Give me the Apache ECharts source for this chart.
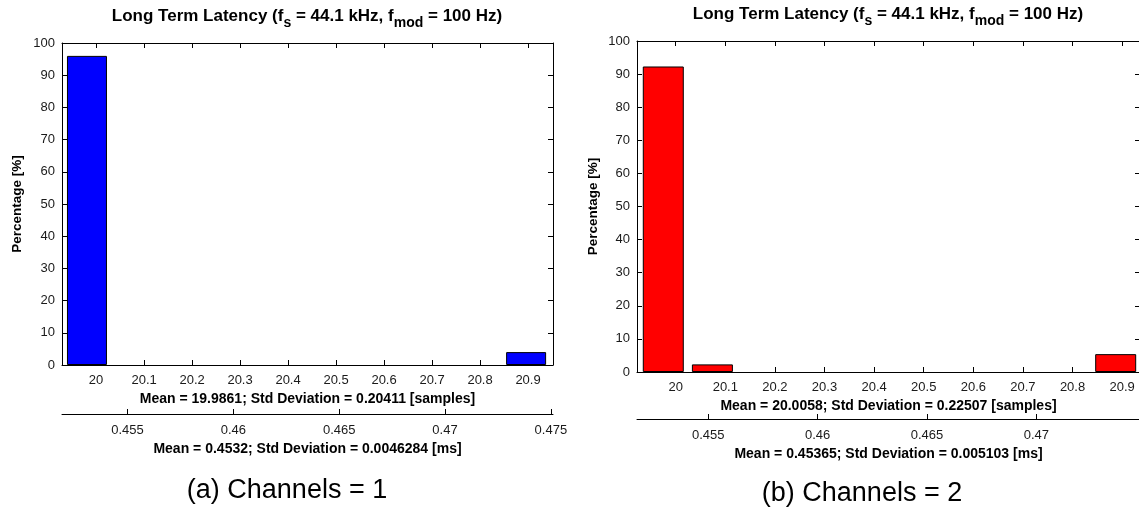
<!DOCTYPE html>
<html>
<head>
<meta charset="utf-8">
<script src="https://cdn.jsdelivr.net/npm/echarts@6/dist/echarts.min.js"></script>
<style>
html,body{margin:0;padding:0;background:#fff;}
#chart{width:1139px;height:513px;}
</style>
</head>
<body>
<div id="chart"></div>
<script>
// ---- data ----
const fsKHz = 44.1;
const sampleTicks = [20, 20.1, 20.2, 20.3, 20.4, 20.5, 20.6, 20.7, 20.8, 20.9];
const sampleTickLabels = ['20', '20.1', '20.2', '20.3', '20.4', '20.5', '20.6', '20.7', '20.8', '20.9'];

// (a) Channels = 1
const binsA = [19.981, 20.896];
const pctA = [96.0, 4.0];
const rangeA = [19.929, 20.952];
const msTicksA = [0.455, 0.46, 0.465, 0.47, 0.475];
const msLabelsA = ['0.455', '0.46', '0.465', '0.47', '0.475'];
const statSamplesA = 'Mean = 19.9861; Std Deviation = 0.20411 [samples]';
const statMsA = 'Mean = 0.4532; Std Deviation = 0.0046284 [ms]';
const captionA = '(a) Channels = 1';

// (b) Channels = 2
const binsB = [19.975, 20.074, 20.887];
const pctB = [92.3, 2.3, 5.4];
const rangeB = [19.922, 20.936];
const msTicksB = [0.455, 0.46, 0.465, 0.47];
const msLabelsB = ['0.455', '0.46', '0.465', '0.47'];
const statSamplesB = 'Mean = 20.0058; Std Deviation = 0.22507 [samples]';
const statMsB = 'Mean = 0.45365; Std Deviation = 0.005103 [ms]';
const captionB = '(b) Channels = 2';

const yName = 'Percentage [%]';
const titleParts = ['Long Term Latency (f', 's', ' = 44.1 kHz, f', 'mod', ' = 100 Hz)'];

// ---- chart ----
const FONT = '"Liberation Sans", Arial, Helvetica, sans-serif';
const AX = '#000';
const TXT = '#1a1a1a';

const panels = [
  {grid:{left:62, top:43, width:491, height:322}, bins:binsA, pct:pctA, range:rangeA,
   msTicks:msTicksA, msLabels:msLabelsA, statS:statSamplesA, statM:statMsA, color:'#0000ff',
   msOffset:49, yGap:38, barW:40},
  {grid:{left:637, top:41, width:503, height:331}, bins:binsB, pct:pctB, range:rangeB,
   msTicks:msTicksB, msLabels:msLabelsB, statS:statSamplesB, statM:statMsB, color:'#ff0000',
   msOffset:47, yGap:37, barW:41}
];

const grids = [], xAxes = [], yAxes = [], series = [];
panels.forEach((p, gi) => {
  grids.push(Object.assign({outerBoundsMode:'none', containLabel:false}, p.grid));
  const line = {show:true, onZero:false, lineStyle:{color:AX, width:1}};
  const tick = (vals) => ({show:true, inside:true, length:5, customValues:vals, lineStyle:{color:AX, width:1}});
  const lbl = (vals, labs, margin) => ({show:true, customValues:vals, margin:margin, color:TXT, fontSize:13, fontFamily:FONT,
     formatter:(v) => { const i = vals.indexOf(v); return i >= 0 ? labs[i] : ''; }});
  const base = xAxes.length;
  // samples axis (bottom)
  xAxes.push({gridIndex:gi, type:'value', position:'bottom', min:p.range[0], max:p.range[1],
    axisLine:line, axisTick:tick(sampleTicks), axisLabel:lbl(sampleTicks, sampleTickLabels, 9), splitLine:{show:false},
    name:p.statS, nameLocation:'middle', nameGap:26,
    nameTextStyle:{color:'#000', fontWeight:'bold', fontSize:14, fontFamily:FONT}});
  // ms axis (bottom, offset)
  xAxes.push({gridIndex:gi, type:'value', position:'bottom', offset:p.msOffset,
    min:p.range[0] / fsKHz, max:p.range[1] / fsKHz,
    axisLine:line, axisTick:tick(p.msTicks), axisLabel:lbl(p.msTicks, p.msLabels, 10), splitLine:{show:false},
    name:p.statM, nameLocation:'middle', nameGap:26,
    nameTextStyle:{color:'#000', fontWeight:'bold', fontSize:14, fontFamily:FONT}});
  // top box axis
  xAxes.push({gridIndex:gi, type:'value', position:'top', min:p.range[0], max:p.range[1],
    axisLine:line, axisTick:tick(sampleTicks), axisLabel:{show:false}, splitLine:{show:false}});
  const ybase = yAxes.length;
  yAxes.push({gridIndex:gi, type:'value', position:'left', min:0, max:100, interval:10,
    axisLine:line, axisTick:{show:true, inside:true, length:5, lineStyle:{color:AX}},
    axisLabel:{color:TXT, fontSize:13, fontFamily:FONT, margin:7}, splitLine:{show:false},
    name:yName, nameLocation:'middle', nameGap:p.yGap, nameRotate:90,
    nameTextStyle:{color:'#000', fontWeight:'bold', fontSize:13.5, fontFamily:FONT}});
  yAxes.push({gridIndex:gi, type:'value', position:'right', min:0, max:100, interval:10,
    axisLine:line, axisTick:{show:true, inside:true, length:5, lineStyle:{color:AX}},
    axisLabel:{show:false}, splitLine:{show:false}});
  series.push({type:'bar', xAxisIndex:base, yAxisIndex:ybase, barWidth:p.barW,
    data:p.bins.map((b, i) => [b, p.pct[i]]),
    itemStyle:{color:p.color, borderColor:'#000', borderWidth:1}, silent:true});
});

function titleGraphic(cx, y) {
  return {type:'text', x:cx, y:y, silent:true,
    style:{text:'{b|' + titleParts[0] + '}{s|' + titleParts[1] + '}{b|' + titleParts[2] + '}{s|' + titleParts[3] + '}{b|' + titleParts[4] + '}',
      align:'center', verticalAlign:'top',
      rich:{
        b:{fontSize:17, fontWeight:'bold', fontFamily:FONT, fill:'#000', lineHeight:20, verticalAlign:'top'},
        s:{fontSize:14, fontWeight:'bold', fontFamily:FONT, fill:'#000', lineHeight:20, verticalAlign:'top', padding:[8,0,0,0]}
      }}};
}
function caption(cx, cy, text) {
  return {type:'text', x:cx, y:cy, silent:true,
    style:{text:text, font:'27px ' + FONT, fill:'#000', align:'center', verticalAlign:'middle'}};
}

const chart = echarts.init(document.getElementById('chart'), null, {renderer:'canvas'});
chart.setOption({
  animation:false,
  backgroundColor:'#fff',
  grid:grids, xAxis:xAxes, yAxis:yAxes, series:series,
  graphic:[
    titleGraphic(307, 8), titleGraphic(888, 6),
    caption(287, 491, captionA), caption(862, 494, captionB)
  ]
});
</script>
</body>
</html>
